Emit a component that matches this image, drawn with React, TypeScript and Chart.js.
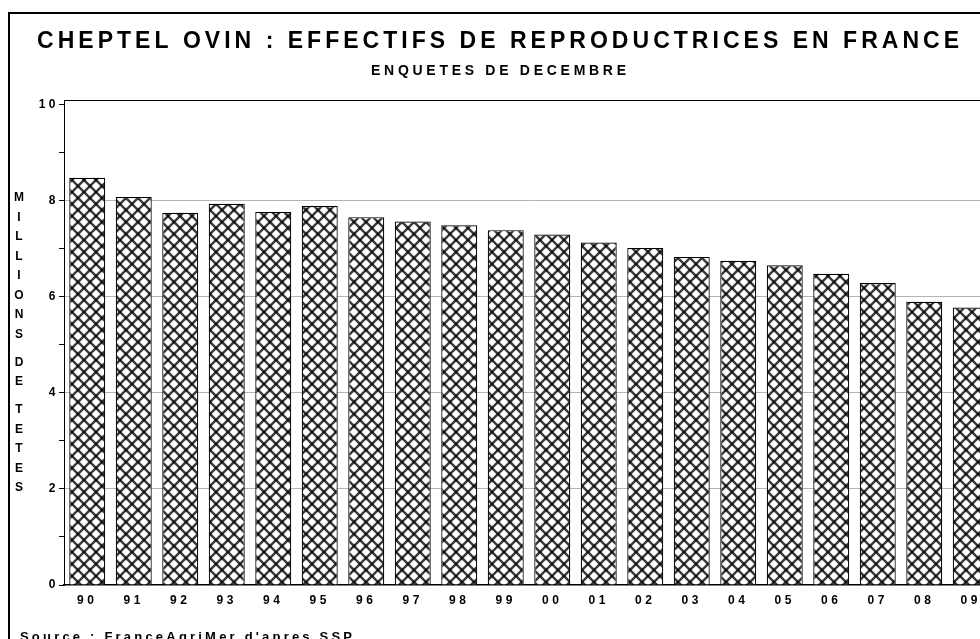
import React, { useEffect, useRef } from 'react';
import { Chart, registerables } from 'chart.js';

Chart.register(...registerables);

// ---- data ----
const years = ['90', '91', '92', '93', '94', '95', '96', '97', '98', '99', '00', '01', '02', '03', '04', '05', '06', '07', '08', '09'];
const ewes = [8.48, 8.08, 7.75, 7.94, 7.77, 7.89, 7.66, 7.57, 7.49, 7.39, 7.3, 7.13, 7.02, 6.83, 6.75, 6.66, 6.48, 6.29, 5.9, 5.78];
const yLabelValues = [0, 2, 4, 6, 8, 10];
const gridValues = [2, 4, 6, 8];

const TITLE = 'CHEPTEL OVIN : EFFECTIFS DE REPRODUCTRICES EN FRANCE';
const SUBTITLE = 'ENQUETES DE DECEMBRE';
const SOURCE = "Source : FranceAgriMer d'apres SSP";
const YTITLE = 'MILLIONS DE TETES';

const FONT = '"Liberation Sans", Arial, sans-serif';
const W = 1040;
const H = 639;

function makePattern(): CanvasPattern | string {
  const c = document.createElement('canvas');
  c.width = 12;
  c.height = 12;
  const g = c.getContext('2d');
  if (!g) return '#888';
  g.fillStyle = '#fff';
  g.fillRect(0, 0, 12, 12);
  g.strokeStyle = 'rgba(0,0,0,0.78)';
  g.lineWidth = 2.4;
  for (const k of [-12, 0, 12]) {
    g.beginPath();
    g.moveTo(k - 2, -2);
    g.lineTo(k + 14, 14);
    g.stroke();
    g.beginPath();
    g.moveTo(k + 14, -2);
    g.lineTo(k - 2, 14);
    g.stroke();
  }
  return g.createPattern(c, 'repeat') || '#888';
}

function drawFitted(ctx: CanvasRenderingContext2D, text: string, x0: number, x1: number, y: number, font: string) {
  ctx.font = font;
  (ctx as any).letterSpacing = '0px';
  const chars = Array.from(text);
  const widths = chars.map((ch) => ctx.measureText(ch).width);
  const total = widths.reduce((a, b) => a + b, 0);
  const sp = (x1 - x0 - total) / (chars.length - 1);
  ctx.textAlign = 'left';
  ctx.textBaseline = 'alphabetic';
  let x = x0;
  chars.forEach((ch, i) => {
    ctx.fillText(ch, x, y);
    x += widths[i] + sp;
  });
}

const decorPlugin = {
  id: 'decor',
  beforeDraw(chart: any) {
    (chart.ctx as any).letterSpacing = '3.5px';
  },
  afterDraw(chart: any) {
    const ctx: CanvasRenderingContext2D = chart.ctx;
    const { left, right, top } = chart.chartArea;
    ctx.save();
    (ctx as any).letterSpacing = '0px';
    // outer frame
    ctx.strokeStyle = '#000';
    ctx.lineWidth = 2;
    ctx.strokeRect(9, 13, 2000, 2000);
    // plot top / right border
    ctx.lineWidth = 1;
    ctx.beginPath();
    ctx.moveTo(left, Math.round(top) + 0.5);
    ctx.lineTo(right, Math.round(top) + 0.5);
    ctx.lineTo(right, chart.chartArea.bottom);
    ctx.stroke();
    // texts
    ctx.fillStyle = '#000';
    drawFitted(ctx, TITLE, 37, 959, 48, `bold 23px ${FONT}`);
    drawFitted(ctx, SUBTITLE, 371, 626, 75, `bold 14px ${FONT}`);
    drawFitted(ctx, SOURCE, 20, 352, 641, `bold 13px ${FONT}`);
    // vertical axis title
    ctx.font = `bold 12px ${FONT}`;
    ctx.textAlign = 'center';
    ctx.textBaseline = 'middle';
    let y = 198;
    for (const ch of Array.from(YTITLE)) {
      if (ch === ' ') {
        y += 8.5;
        continue;
      }
      ctx.fillText(ch, 19, y);
      y += 19.5;
    }
    ctx.restore();
  },
};

export default function App() {
  const ref = useRef<HTMLCanvasElement>(null);

  useEffect(() => {
    if (!ref.current) return;
    const pattern = makePattern();
    const tickFont = { family: FONT, size: 12, weight: 'bold' as const };
    const chart = new Chart(ref.current, {
      type: 'bar',
      data: {
        labels: years,
        datasets: [
          {
            data: ewes,
            backgroundColor: pattern as any,
            borderColor: '#000',
            borderWidth: 1.2,
            barPercentage: 0.774,
            categoryPercentage: 1,
          },
        ],
      },
      options: {
        animation: false,
        responsive: true,
        maintainAspectRatio: false,
        layout: { padding: { left: 0, right: W - 994, top: 100, bottom: 0 } },
        plugins: {
          legend: { display: false },
          title: { display: false },
          tooltip: { enabled: false },
        },
        scales: {
          x: {
            grid: { display: true, drawOnChartArea: false, drawTicks: false },
            border: { display: true, color: '#000', width: 1.5 },
            ticks: { color: '#000', font: tickFont, padding: 8, maxRotation: 0, autoSkip: false },
            afterFit: (s: any) => {
              s.height = 54;
            },
          },
          y: {
            min: 0,
            max: 10.1,
            grid: {
              color: (c: any) => (c.tick && gridValues.includes(c.tick.value) ? '#b4b4b4' : 'rgba(0,0,0,0)'),
              tickColor: '#000',
              tickLength: 5,
              lineWidth: 1,
            },
            border: { display: true, color: '#000', width: 1 },
            ticks: {
              stepSize: 1,
              includeBounds: false,
              autoSkip: false,
              color: '#000',
              font: tickFont,
              padding: 0,
              callback: (v: any) => (yLabelValues.includes(Number(v)) ? String(v) : ''),
            },
            afterBuildTicks: (s: any) => {
              s.ticks = s.ticks.filter((t: any) => t.value <= 10);
            },
            afterFit: (s: any) => {
              s.width = 64;
            },
          },
        },
      },
      plugins: [decorPlugin],
    });
    return () => chart.destroy();
  }, []);

  return (
    <div style={{ position: 'fixed', left: 0, top: 0, width: 980, height: H, overflow: 'hidden', background: '#fff' }}>
      <div style={{ position: 'relative', width: W, height: H }}>
        <canvas ref={ref} />
      </div>
    </div>
  );
}
